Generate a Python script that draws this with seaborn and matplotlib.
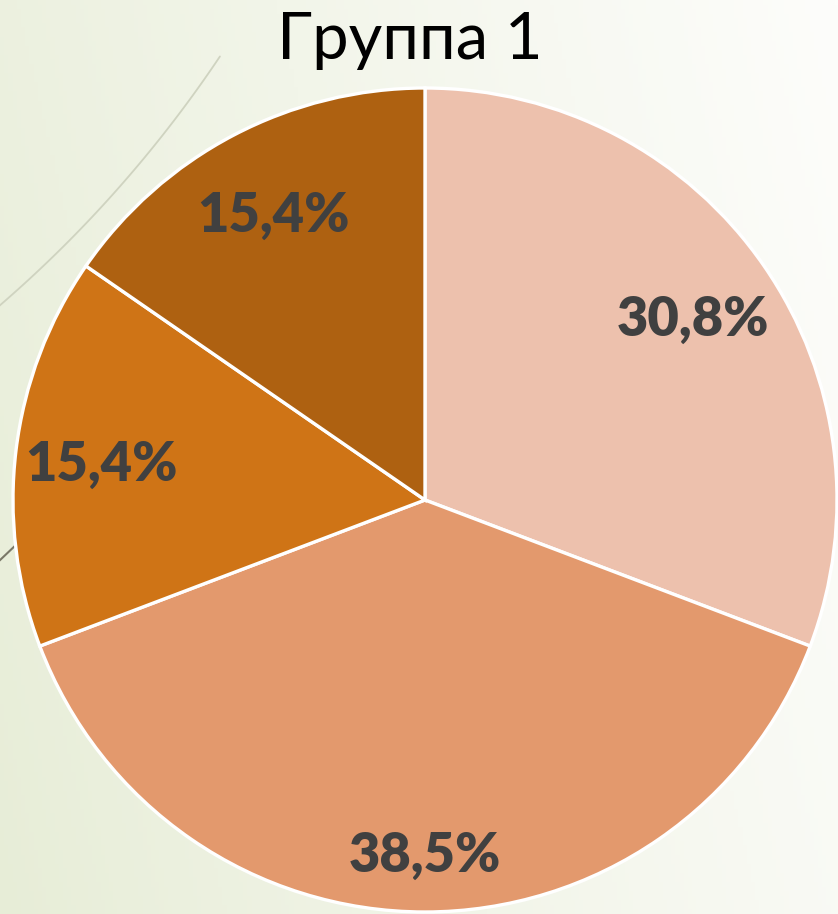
import numpy as np
import matplotlib
matplotlib.use('Agg')
import matplotlib.pyplot as plt
import seaborn as sns

# data
categories = ['Кв. 1', 'Кв. 2', 'Кв. 3', 'Кв. 4']
shares = [30.8, 38.5, 15.4, 15.4]
colors = ['#EDC1AD', '#E3996D', '#CF7416', '#AE6111']
title = 'Группа 1'

sns.set_theme(style='white')
plt.rcParams['font.family'] = ['Lato', 'DejaVu Sans']

W, H = 838, 914
fig = plt.figure(figsize=(W / 100, H / 100), dpi=100)

# background: soft green to white gradient + template arcs
bg = fig.add_axes([0, 0, 1, 1], zorder=0)
xx, yy = np.meshgrid(np.linspace(0, 1, 200), np.linspace(0, 1, 200))
t = np.clip(0.8 * xx + 0.2 * (1 - yy), 0, 1) ** 0.9
green = np.array([231, 237, 215]) / 255
white = np.array([253, 253, 251]) / 255
img = green[None, None, :] * (1 - t[..., None]) + white[None, None, :] * t[..., None]
bg.imshow(img, extent=[0, W, H, 0], aspect='auto')
ang = np.linspace(np.radians(33.8), np.radians(70), 100)
bg.plot(-813 + 1243 * np.cos(ang), -635 + 1243 * np.sin(ang), color='#cfd3c0', lw=1.3)
bg.plot([-2, 40], [562, 522], color='#7a7868', lw=1.5)
bg.set_xlim(0, W)
bg.set_ylim(H, 0)
bg.axis('off')

# pie, centre at (425, 500) px, radius 412 px
cx, cy, r = 425, 500, 412
ax = fig.add_axes([0, 0, 1, 1], zorder=1)
ax.patch.set_alpha(0)
wedges, texts, autotexts = ax.pie(
    shares, colors=colors, startangle=90, counterclock=False,
    autopct=lambda p: f'{p:.1f}%'.replace('.', ','), pctdistance=0.79,
    wedgeprops=dict(edgecolor='white', linewidth=2.4),
    textprops=dict(fontsize=39, fontweight='heavy', color='#404040'))
for at in autotexts:
    at.set_va('center_baseline')
# bottom label sits a bit further out
x0, y0 = autotexts[1].get_position()
autotexts[1].set_position((x0 * 1.08, y0 * 1.08))
ax.set_xlim(-cx / r, (W - cx) / r)
ax.set_ylim(-(H - cy) / r, cy / r)
ax.set_aspect('auto')
ax.axis('off')

fig.text(410 / W, 1 - 40 / H, title, ha='center', va='center', fontsize=47, color='black')

fig.savefig('out.png', dpi=100)
